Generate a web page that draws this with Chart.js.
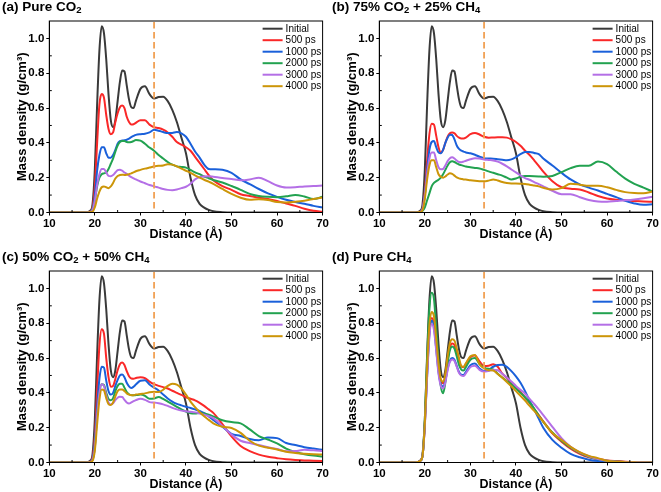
<!DOCTYPE html>
<html><head><meta charset="utf-8">
<script src="https://cdn.jsdelivr.net/npm/chart.js@4.4.0/dist/chart.umd.min.js"></script>
<style>
html,body{margin:0;padding:0;background:#fff;width:661px;height:492px;overflow:hidden;}
.panel{position:absolute;width:330px;height:246px;}
.panel canvas{position:absolute;left:0;top:0;}
.ttl{position:absolute;left:2px;top:-1px;font:bold 13.5px "Liberation Sans",Arial,sans-serif;color:#000;white-space:nowrap;z-index:2;line-height:16px}
.ttl sub{font-size:9.5px;vertical-align:-2px;line-height:0}
</style></head><body>
<div class="panel" style="left:0;top:0"><canvas id="ca" width="330" height="246"></canvas><div class="ttl">(a) Pure CO<sub>2</sub></div></div>
<div class="panel" style="left:330px;top:0"><canvas id="cb" width="330" height="246"></canvas><div class="ttl">(b) 75% CO<sub>2</sub> + 25% CH<sub>4</sub></div></div>
<div class="panel" style="left:0;top:250px"><canvas id="cc" width="330" height="246"></canvas><div class="ttl">(c) 50% CO<sub>2</sub> + 50% CH<sub>4</sub></div></div>
<div class="panel" style="left:330px;top:250px"><canvas id="cd" width="330" height="246"></canvas><div class="ttl">(d) Pure CH<sub>4</sub></div></div>
<script>
// Distance grid (Å)
const X = [10,18,19, 19.5,20,20.5,21,21.5,22,22.5,23,23.5,24,24.5,25,25.5,26,26.5,27,27.5,28,28.5,29, 30,31,32,33,34,35,36,37,38,39,40,41,42,43,44,45,46, 48,50,52,54,56,58,60,62,64,66,68,70];

const INITIAL = [0,0,0.01, 0.05,0.25,0.62,0.93,1.07,1.03,0.88,0.68,0.53,0.49,0.53,0.64,0.75,0.815,0.81,0.73,0.65,0.605,0.6,0.64, 0.71,0.725,0.68,0.655,0.663,0.665,0.64,0.59,0.52,0.43,0.34,0.2,0.1,0.05,0.028,0.015,0.007, 0.002,0,0,0,0,0,0,0,0,0,0,0];

// (a) Pure CO2
const A_500  = [0,0,0.005, 0.03,0.15,0.4,0.62,0.68,0.66,0.56,0.48,0.45,0.46,0.52,0.57,0.605,0.615,0.6,0.55,0.52,0.505,0.507,0.515, 0.53,0.53,0.505,0.49,0.485,0.476,0.46,0.435,0.405,0.39,0.375,0.355,0.32,0.285,0.25,0.215,0.185, 0.152,0.13,0.105,0.095,0.085,0.077,0.066,0.052,0.038,0.022,0.01,0.004];
const A_1000 = [0,0,0.003, 0.02,0.1,0.24,0.33,0.375,0.375,0.34,0.315,0.315,0.33,0.36,0.395,0.41,0.413,0.415,0.418,0.425,0.433,0.44,0.446, 0.45,0.452,0.46,0.475,0.47,0.462,0.456,0.457,0.462,0.455,0.435,0.395,0.35,0.315,0.275,0.25,0.248, 0.245,0.228,0.19,0.163,0.135,0.11,0.09,0.073,0.06,0.05,0.038,0.028];
const A_2000 = [0,0,0.003, 0.02,0.07,0.15,0.2,0.22,0.225,0.23,0.25,0.28,0.31,0.35,0.385,0.405,0.41,0.41,0.405,0.403,0.405,0.41,0.416, 0.413,0.395,0.373,0.355,0.33,0.31,0.29,0.275,0.265,0.262,0.258,0.245,0.23,0.22,0.207,0.197,0.187, 0.172,0.152,0.13,0.107,0.095,0.09,0.088,0.093,0.101,0.092,0.077,0.09];
const A_3000 = [0,0,0.003, 0.015,0.07,0.16,0.22,0.25,0.25,0.23,0.21,0.208,0.215,0.23,0.243,0.246,0.24,0.23,0.222,0.212,0.203,0.196,0.19, 0.178,0.168,0.158,0.15,0.143,0.135,0.13,0.128,0.132,0.14,0.148,0.165,0.19,0.203,0.207,0.208,0.205, 0.198,0.193,0.185,0.19,0.2,0.18,0.155,0.143,0.145,0.15,0.152,0.155];
const A_4000 = [0,0,0.002, 0.005,0.03,0.08,0.12,0.145,0.15,0.145,0.14,0.15,0.17,0.195,0.21,0.215,0.217,0.216,0.217,0.22,0.225,0.23,0.237, 0.245,0.252,0.258,0.264,0.268,0.27,0.277,0.275,0.265,0.252,0.24,0.228,0.213,0.2,0.188,0.177,0.165, 0.135,0.107,0.085,0.073,0.076,0.072,0.06,0.058,0.062,0.068,0.077,0.086];

// (b) 75% CO2 + 25% CH4
const B_500  = [0,0,0.004, 0.02,0.12,0.3,0.45,0.51,0.505,0.44,0.375,0.345,0.36,0.4,0.435,0.455,0.46,0.455,0.44,0.43,0.425,0.425,0.43, 0.45,0.457,0.448,0.435,0.43,0.431,0.432,0.432,0.43,0.42,0.405,0.383,0.355,0.33,0.3,0.268,0.235, 0.18,0.145,0.136,0.132,0.115,0.095,0.08,0.073,0.07,0.066,0.063,0.062];
const B_1000 = [0,0,0.004, 0.02,0.1,0.25,0.36,0.405,0.41,0.375,0.345,0.34,0.36,0.4,0.43,0.447,0.445,0.42,0.385,0.365,0.355,0.35,0.345, 0.34,0.332,0.32,0.312,0.31,0.309,0.306,0.303,0.3,0.305,0.318,0.335,0.347,0.348,0.342,0.335,0.31, 0.27,0.228,0.19,0.162,0.143,0.126,0.107,0.088,0.067,0.052,0.044,0.048];
const B_2000 = [0,0,0.002, 0.01,0.03,0.07,0.11,0.15,0.17,0.18,0.188,0.2,0.22,0.245,0.27,0.288,0.294,0.29,0.282,0.276,0.272,0.268,0.264, 0.26,0.256,0.253,0.245,0.236,0.228,0.22,0.212,0.2,0.19,0.195,0.205,0.21,0.209,0.208,0.207,0.206, 0.21,0.232,0.255,0.268,0.268,0.293,0.278,0.235,0.195,0.165,0.143,0.12];
const B_3000 = [0,0,0.004, 0.02,0.1,0.22,0.31,0.345,0.345,0.3,0.26,0.248,0.25,0.27,0.295,0.312,0.317,0.31,0.298,0.29,0.289,0.292,0.297, 0.306,0.312,0.31,0.305,0.302,0.299,0.292,0.28,0.265,0.247,0.23,0.213,0.198,0.188,0.175,0.163,0.15, 0.125,0.105,0.105,0.088,0.072,0.063,0.062,0.066,0.07,0.075,0.082,0.09];
const B_4000 = [0,0,0.003, 0.015,0.08,0.19,0.27,0.3,0.3,0.26,0.22,0.205,0.2,0.207,0.218,0.225,0.222,0.212,0.202,0.196,0.193,0.19,0.189, 0.185,0.182,0.18,0.179,0.183,0.19,0.184,0.175,0.17,0.167,0.166,0.165,0.164,0.16,0.155,0.15,0.142, 0.132,0.14,0.165,0.16,0.153,0.153,0.145,0.13,0.117,0.112,0.111,0.12];

// (c) 50% CO2 + 50% CH4
const C_500  = [0,0,0.005, 0.03,0.15,0.42,0.67,0.765,0.74,0.6,0.49,0.435,0.44,0.48,0.53,0.565,0.575,0.56,0.525,0.495,0.482,0.481,0.485, 0.49,0.485,0.465,0.45,0.44,0.433,0.425,0.412,0.4,0.388,0.375,0.366,0.357,0.343,0.325,0.305,0.285, 0.22,0.15,0.095,0.065,0.045,0.033,0.025,0.018,0.014,0.012,0.01,0.008];
const C_1000 = [0,0,0.004, 0.02,0.12,0.32,0.48,0.55,0.545,0.47,0.41,0.39,0.4,0.44,0.475,0.5,0.505,0.49,0.458,0.437,0.428,0.435,0.448, 0.47,0.472,0.448,0.43,0.414,0.39,0.368,0.35,0.337,0.328,0.32,0.313,0.305,0.296,0.283,0.265,0.245, 0.205,0.165,0.152,0.135,0.128,0.143,0.14,0.112,0.1,0.088,0.08,0.073];
const C_2000 = [0,0,0.003, 0.015,0.09,0.27,0.4,0.45,0.445,0.4,0.365,0.358,0.37,0.41,0.44,0.452,0.453,0.43,0.405,0.392,0.387,0.386,0.387, 0.39,0.383,0.366,0.368,0.376,0.365,0.35,0.335,0.32,0.305,0.292,0.283,0.281,0.285,0.282,0.275,0.265, 0.243,0.232,0.225,0.19,0.152,0.132,0.11,0.08,0.06,0.048,0.04,0.035];
const C_3000 = [0,0,0.003, 0.015,0.09,0.27,0.4,0.45,0.44,0.385,0.345,0.333,0.34,0.358,0.372,0.377,0.376,0.36,0.345,0.339,0.345,0.352,0.358, 0.366,0.36,0.347,0.344,0.34,0.334,0.325,0.314,0.305,0.298,0.294,0.291,0.288,0.282,0.275,0.266,0.255, 0.21,0.16,0.125,0.112,0.1,0.088,0.077,0.065,0.066,0.073,0.07,0.066];
const C_4000 = [0,0,0.002, 0.01,0.07,0.22,0.36,0.42,0.415,0.37,0.335,0.33,0.345,0.38,0.41,0.42,0.42,0.41,0.397,0.39,0.387,0.387,0.39, 0.394,0.397,0.403,0.406,0.405,0.418,0.44,0.452,0.447,0.425,0.39,0.35,0.318,0.29,0.265,0.245,0.225, 0.205,0.198,0.17,0.125,0.097,0.085,0.075,0.062,0.055,0.05,0.047,0.046];

// (d) Pure CH4
const D_500  = [0,0,0.01, 0.04,0.22,0.52,0.75,0.83,0.8,0.68,0.55,0.47,0.455,0.5,0.59,0.66,0.684,0.675,0.63,0.58,0.552,0.547,0.565, 0.605,0.615,0.58,0.555,0.556,0.564,0.55,0.51,0.485,0.458,0.432,0.405,0.373,0.342,0.307,0.272,0.237, 0.167,0.12,0.08,0.05,0.03,0.02,0.012,0.008,0.005,0.003,0.002,0.001];
const D_1000 = [0,0,0.01, 0.04,0.22,0.5,0.74,0.815,0.78,0.65,0.52,0.45,0.436,0.47,0.54,0.585,0.6,0.59,0.555,0.52,0.505,0.503,0.52, 0.558,0.568,0.54,0.525,0.532,0.55,0.56,0.561,0.549,0.525,0.495,0.458,0.41,0.355,0.305,0.252,0.2, 0.13,0.085,0.05,0.03,0.016,0.008,0.004,0.002,0.001,0,0,0];
const D_2000 = [0,0,0.01, 0.04,0.25,0.6,0.88,0.975,0.94,0.77,0.58,0.44,0.398,0.46,0.57,0.645,0.667,0.655,0.61,0.56,0.533,0.528,0.548, 0.59,0.6,0.565,0.545,0.538,0.535,0.51,0.488,0.468,0.45,0.425,0.4,0.375,0.345,0.31,0.27,0.234, 0.172,0.125,0.085,0.055,0.032,0.018,0.01,0.006,0.003,0.002,0.001,0];
const D_3000 = [0,0,0.01, 0.04,0.21,0.49,0.72,0.795,0.76,0.64,0.51,0.44,0.426,0.46,0.53,0.578,0.592,0.583,0.55,0.515,0.5,0.497,0.512, 0.548,0.556,0.532,0.522,0.526,0.533,0.53,0.51,0.488,0.465,0.44,0.418,0.395,0.365,0.336,0.305,0.272, 0.205,0.14,0.09,0.058,0.036,0.02,0.01,0.005,0.003,0.002,0.001,0];
const D_4000 = [0,0,0.01, 0.04,0.23,0.55,0.79,0.865,0.84,0.71,0.57,0.48,0.465,0.51,0.61,0.685,0.708,0.7,0.655,0.6,0.555,0.55,0.57, 0.61,0.618,0.565,0.54,0.53,0.528,0.508,0.487,0.462,0.438,0.41,0.383,0.355,0.325,0.297,0.266,0.234, 0.17,0.13,0.09,0.06,0.038,0.025,0.01,0.004,0.002,0.001,0,0];

const LABELS = ['Initial','500 ps','1000 ps','2000 ps','3000 ps','4000 ps'];
const COLORS = ['#3a3a3a','#fa2828','#1a60da','#22a250','#b46fe6','#cc9508'];
const X_TICKS_MINOR = [15,25,35,45,55,65];
const Y_TICKS_MINOR = [0.1,0.3,0.5,0.7,0.9];
const X_SPLIT = 33;
const FONT = '"Liberation Sans", Arial, sans-serif';

const PANELS = [
  {id:'ca', series:[INITIAL,A_500,A_1000,A_2000,A_3000,A_4000]},
  {id:'cb', series:[INITIAL,B_500,B_1000,B_2000,B_3000,B_4000]},
  {id:'cc', series:[INITIAL,C_500,C_1000,C_2000,C_3000,C_4000]},
  {id:'cd', series:[INITIAL,D_500,D_1000,D_2000,D_3000,D_4000]}
];

const decor = {
  id:'decor',
  afterDatasetsDraw(chart){
    const {ctx, chartArea:a, scales:{x}} = chart;
    const px = x.getPixelForValue(X_SPLIT);
    ctx.save();
    ctx.strokeStyle = '#f1a154';
    ctx.lineWidth = 1.8;
    ctx.setLineDash([6.5,3.5]);
    ctx.beginPath(); ctx.moveTo(px, a.top+1); ctx.lineTo(px, a.bottom); ctx.stroke();
    ctx.restore();
  },
  afterDraw(chart){
    const {ctx, chartArea:a, scales:{x,y}} = chart;
    ctx.save();
    ctx.strokeStyle = '#000'; ctx.lineWidth = 1;
    ctx.strokeRect(a.left, a.top, a.right-a.left, a.bottom-a.top);
    ctx.beginPath();
    for (const v of X_TICKS_MINOR){ const p = x.getPixelForValue(v); ctx.moveTo(p, a.bottom); ctx.lineTo(p, a.bottom-2.5); }
    for (const v of Y_TICKS_MINOR){ const p = y.getPixelForValue(v); ctx.moveTo(a.left, p); ctx.lineTo(a.left+2.5, p); }
    ctx.stroke();
    // legend
    ctx.font = '10px ' + FONT;
    ctx.textBaseline = 'middle';
    ctx.fillStyle = '#000';
    chart.data.datasets.forEach((ds, i) => {
      const yy = a.top + 7.7 + i*11.5;
      ctx.strokeStyle = ds.borderColor; ctx.lineWidth = 2;
      ctx.beginPath(); ctx.moveTo(a.right-60, yy); ctx.lineTo(a.right-40, yy); ctx.stroke();
      ctx.fillText(ds.label, a.right-37, yy+0.5);
    });
    ctx.restore();
  }
};

function build(panel){
  const datasets = panel.series.map((arr, i) => ({
    label: LABELS[i],
    data: X.map((xv, k) => ({x: xv, y: arr[k]})),
    borderColor: COLORS[i],
    backgroundColor: COLORS[i],
    borderWidth: 2,
    pointRadius: 0,
    fill: false,
    cubicInterpolationMode: 'monotone',
    order: 5 - i
  }));
  new Chart(document.getElementById(panel.id), {
    type: 'line',
    data: {datasets},
    plugins: [decor],
    options: {
      responsive: false, animation: false, devicePixelRatio: 1,
      layout: {padding: {left: 11, right: 6.7, top: 21, bottom: 0}},
      plugins: {legend: {display: false}, tooltip: {enabled: false}},
      scales: {
        x: {
          type: 'linear', min: 10, max: 70,
          afterFit: s => { s.height = 33.5; },
          ticks: {stepSize: 10, color: '#000', padding: 1, maxRotation: 0, font: {family: FONT, size: 11.5, weight: 'bold'}},
          grid: {display: true, drawOnChartArea: false, drawTicks: true, tickLength: 3, color: '#000', lineWidth: 1},
          border: {display: true, color: '#000', width: 1},
          title: {display: true, text: 'Distance (Å)', color: '#000', padding: {top: 4, bottom: 4}, font: {family: FONT, size: 12.5, weight: 'bold'}}
        },
        y: {
          min: 0, max: 1.1,
          afterFit: s => { s.width = 38.3; },
          ticks: {stepSize: 0.2, includeBounds: false, color: '#000', padding: 2, callback: v => v.toFixed(1), font: {family: FONT, size: 11.5, weight: 'bold'}},
          grid: {display: true, drawOnChartArea: false, drawTicks: true, tickLength: 3, color: '#000', lineWidth: 1},
          border: {display: true, color: '#000', width: 1},
          title: {display: true, text: 'Mass density (g/cm³)', color: '#000', padding: {top: 4, bottom: 4}, font: {family: FONT, size: 13, weight: 'bold'}}
        }
      }
    }
  });
}
PANELS.forEach(build);
</script>
</body></html>
